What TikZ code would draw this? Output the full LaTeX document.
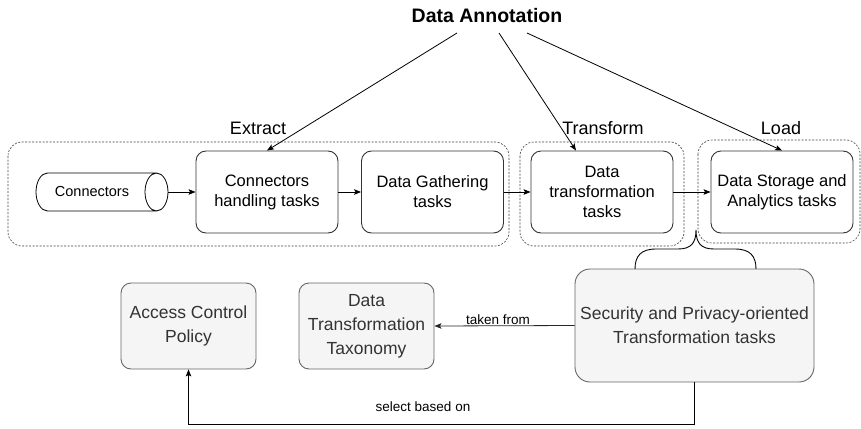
\documentclass[tikz,border=0pt]{standalone}
\usepackage{fontspec}
\setmainfont{Liberation Sans}
\usetikzlibrary{arrows.meta,calc}
\definecolor{boxline}{HTML}{333333}
\definecolor{grayfill}{HTML}{F5F5F5}
\definecolor{grayline}{HTML}{666666}
\definecolor{graytext}{HTML}{333333}
\begin{document}
\begin{tikzpicture}[x=1pt,y=-1pt,
  arr/.style={-{Stealth[length=7pt,width=5.5pt,inset=1.5pt]},line width=0.8pt},
  taskbox/.style={draw=boxline,line width=0.9pt,fill=white,rounded corners=10pt,
    align=center,font=\fontsize{16.5}{20}\selectfont,inner sep=0pt,
    minimum width=142pt,minimum height=82pt},
  infobox/.style={draw=grayline,line width=0.9pt,fill=grayfill,rounded corners=10pt,
    align=center,text=graytext,font=\fontsize{17.5}{24}\selectfont,inner sep=0pt,
    minimum width=135pt,minimum height=86pt},
  grp/.style={draw=black!75,dash pattern=on 2pt off 1.5pt,line width=0.6pt,rounded corners=14pt},
  phase/.style={font=\fontsize{18}{22}\selectfont,inner sep=0pt},
  lbl/.style={font=\fontsize{13.5}{16}\selectfont,inner sep=0pt}
]
\useasboundingbox (0,0) rectangle (861,428);

% groups
\draw[grp] (8,142) rectangle (509,246);
\draw[grp] (520,142) rectangle (684,246);
\draw[grp] (698,140) rectangle (860,243);

% phase labels
\node[phase] (ext) at (258,128) {Extract};
\node[phase] (trl) at (603,128) {Transform};
\node[phase] (lod) at (781,128) {Load};

% title
\node[font=\fontsize{19.5}{22}\bfseries,inner sep=0pt] (ann) at (487,16) {Data Annotation};

% cylinder
\node[minimum width=132pt,minimum height=38pt,inner sep=0pt] (cyl) at (102,192) {};
\draw[line width=0.8pt,fill=white] (47.5,173) -- (156.5,173) arc[start angle=90,end angle=-270,x radius=11.5pt,y radius=19pt]
  (156.5,211) -- (47.5,211) arc[start angle=270,end angle=90,x radius=11.5pt,y radius=19pt];
\node[font=\fontsize{14.5}{18}\selectfont,inner sep=0pt] at (92,192) {Connectors};

% task boxes
\node[taskbox] (hand) at (267,192) {Connectors\\handling tasks};
\node[taskbox] (gath) at (432.5,192) {Data Gathering\\tasks};
\node[taskbox] (trans) at (602,192) {Data\\transformation\\tasks};
\node[taskbox] (stor) at (782,192) {Data Storage and\\Analytics tasks};

% info boxes
\node[infobox] (acp) at (188.5,326) {Access Control\\Policy};
\node[infobox] (dtt) at (366.5,326) {Data\\Transformation\\Taxonomy};
\node[infobox,minimum width=239pt,minimum height=113pt,rounded corners=15pt] (sec) at (694.5,325.5) {Security and Privacy-oriented\\Transformation tasks};

% flow arrows
\draw[arr] (cyl.east) -- (hand.west);
\draw[arr] (hand.east) -- (gath.west);
\draw[arr] (gath.east) -- (trans.west);
\draw[arr] (trans.east) -- (stor.west);

% annotation arrows
\coordinate (a1) at (457,33);
\coordinate (a2) at (499,33);
\coordinate (a3) at (527,33);
\coordinate (t2) at ($(trans.north)+(-26,0)$);
\draw[arr] (a1) -- (hand.north);
\draw[arr] (a2) -- (t2);
\draw[arr] (a3) -- (stor.north);

% brace
\draw[line width=0.9pt] (635,269) .. controls (635,256) and (641,249) .. (656,249) -- (678,249)
  .. controls (691,249) and (696,243) .. (696,230)
  .. controls (696,243) and (701,249) .. (714,249) -- (735,249)
  .. controls (750,249) and (756,256) .. (756,269);

% taken from
\draw[arr,draw=black!85] (sec.west) -- (dtt.east);
\node[lbl] at (498,320) {taken from};

% select based on
\coordinate (c1) at ($(sec.south)+(0,42)$);
\coordinate (c2) at ($(acp.south)+(0,55)$);
\draw[arr] (sec.south) -- (c1) -- (c2) -- (acp.south);
\node[lbl] at (423,407) {select based on};
\end{tikzpicture}
\end{document}
